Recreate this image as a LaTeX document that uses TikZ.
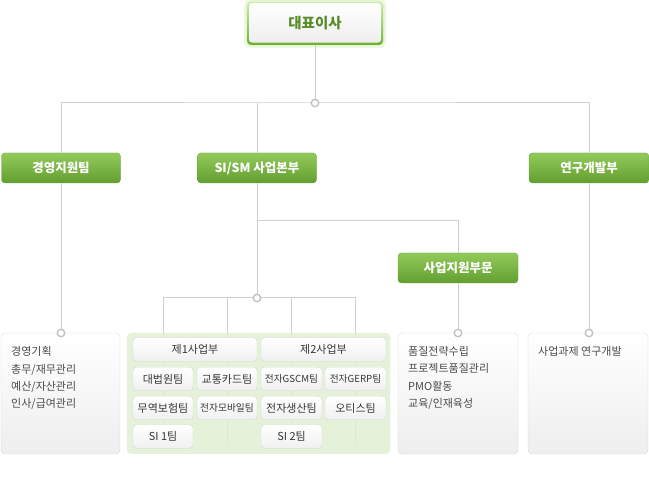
\documentclass[tikz,border=0pt]{standalone}
\usepackage{fontspec}
\setmainfont{Noto Sans CJK KR}
\definecolor{linegray}{RGB}{208,208,208}
\definecolor{dotgray}{RGB}{190,190,190}
\definecolor{gtop}{RGB}{146,203,90}
\definecolor{gbot}{RGB}{98,158,48}
\definecolor{gedge}{RGB}{104,160,56}
\definecolor{ceotop}{RGB}{205,236,170}
\definecolor{ceobot}{RGB}{108,176,48}
\definecolor{ceotxt}{RGB}{88,140,40}
\definecolor{gglow}{RGB}{200,235,165}
\definecolor{boxbot}{RGB}{238,238,238}
\definecolor{boxedge}{RGB}{215,215,215}
\definecolor{teambot}{RGB}{240,240,240}
\definecolor{teamtxt}{RGB}{55,55,55}
\definecolor{txtgray}{RGB}{75,75,75}
\definecolor{panelgreen}{RGB}{225,238,210}
\tikzset{
  conn/.style={draw=linegray, line width=1pt},
  jdot/.style={circle, draw=dotgray, fill=white, line width=1.3pt, minimum size=7.5pt, inner sep=0pt},
  gbox/.style={rounded corners=3.5pt, top color=gtop, bottom color=gbot, draw=gedge, text=white,
    font=\fontsize{12.5}{14}\selectfont\bfseries, minimum width=119pt, minimum height=30pt, inner sep=0pt},
  infobox/.style={rounded corners=4pt, top color=white, bottom color=boxbot, draw=boxedge,
    minimum width=119pt, minimum height=121pt, inner sep=0pt},
  info/.style={text=txtgray, font=\fontsize{11}{17.2}\selectfont, align=left, anchor=north west, inner sep=0pt},
  team/.style={rounded corners=3.5pt, top color=white, bottom color=teambot, draw=boxedge, text=teamtxt,
    font=\fontsize{11}{12}\selectfont, minimum height=23.5pt, inner sep=0pt},
  narrowtxt/.style={font=\fontsize{9.7}{12}\selectfont},
  glowbox/.style={rounded corners=6pt, fill=gglow, fill opacity=0.3, inner sep=0pt},
}
\begin{document}
\begin{tikzpicture}[x=1pt,y=-1pt]
\useasboundingbox (0,0) rectangle (649,481);

% CEO box with glow
\node[glowbox, minimum width=142pt, minimum height=49pt] (glowa) at (315,23.5) {};
\node[glowbox, minimum width=139pt, minimum height=46pt] (glowb) at (315,23.5) {};
\node[rounded corners=4pt, top color=ceotop, bottom color=ceobot, minimum width=136pt, minimum height=43pt, inner sep=0pt] (ceo) at (315,23.5) {};
\node[rounded corners=3pt, top color=white, bottom color=boxbot, minimum width=132pt, minimum height=39.5pt, inner sep=0pt,
  text=ceotxt, font=\fontsize{14.5}{16}\selectfont\bfseries] (ceoin) at (315,22.8) {대표이사};

% junction coordinates
\coordinate (j0) at (315,103);
\coordinate (br) at (257,221);
\coordinate (j1) at (257,298);
\coordinate (d1) at (61,333);
\coordinate (d2) at (458,333);
\coordinate (d3) at (589,333);
\coordinate (k1) at (163,446);
\coordinate (k2) at (227,446);
\coordinate (k3) at (291.5,446);
\coordinate (k4) at (355.5,446);

% header boxes
\node[gbox] (g1) at (61,168) {경영지원팀};
\node[gbox] (g2) at (257,168) {SI/SM 사업본부};
\node[gbox, minimum width=120pt] (g3) at (589,168) {연구개발부};
\node[gbox, minimum width=120pt] (g4) at (458,268) {사업지원부문};

% connectors
\draw[conn] (ceo.south) -- (j0);
\draw[conn] (g1.north) |- (j0) -| (g3.north);
\draw[conn] (g2.north) -- (g2.north |- j0);
\draw[conn] (g1.south) -- (d1);
\draw[conn] (g3.south) -- (d3);
\draw[conn] (g2.south) -- (j1);
\draw[conn] (br) -| (g4.north);
\draw[conn] (g4.south) -- (d2);
\draw[conn] (k1) -- (k1 |- j1) -- (k4 |- j1) -- (k4);
\draw[conn] (k2) -- (k2 |- j1);
\draw[conn] (k3) -- (k3 |- j1);

% bottom boxes
\node[infobox] (b1) at (60.5,393.5) {};
\node[infobox, minimum width=120pt] (b2) at (458,393.5) {};
\node[infobox, minimum width=120pt] (b3) at (588,393.5) {};
\node[rounded corners=4pt, fill=panelgreen, fill opacity=0.82, minimum width=263pt, minimum height=121pt, inner sep=0pt] (panel) at (258.5,393.5) {};

\node[info] (t1) at (11,346.5) {경영기획\\총무/재무관리\\예산/자산관리\\인사/급여관리};
\node[info] (t2) at (408,346.5) {품질전략수립\\프로젝트품질관리\\PMO활동\\교육/인재육성};
\node[info] (t3) at (538,346.5) {사업과제 연구개발};

% team boxes
\node[team, minimum width=124pt] (s1) at (195,349.5) {제1사업부};
\node[team, minimum width=125pt] (s2) at (323.5,349.5) {제2사업부};
\node[team, minimum width=60pt] (a1) at (163,379) {대법원팀};
\node[team, minimum width=60pt] (a2) at (227,379) {교통카드팀};
\node[team, minimum width=61pt, narrowtxt] (a3) at (291.5,379) {전자GSCM팀};
\node[team, minimum width=61pt, narrowtxt] (a4) at (355.5,379) {전자GERP팀};
\node[team, minimum width=60pt] (c1) at (163,408) {무역보험팀};
\node[team, minimum width=60pt, narrowtxt] (c2) at (227,408) {전자모바일팀};
\node[team, minimum width=61pt] (c3) at (291.5,408) {전자생산팀};
\node[team, minimum width=61pt] (c4) at (355.5,408) {오티스팀};
\node[team, minimum width=60pt] (e1) at (163,436.5) {SI 1팀};
\node[team, minimum width=61pt] (e3) at (291.5,436.5) {SI 2팀};

% junction dots
\node[jdot] (dot0) at (j0) {};
\node[jdot] (dot1) at (j1) {};
\node[jdot] (dot2) at (d1) {};
\node[jdot] (dot3) at (d2) {};
\node[jdot] (dot4) at (d3) {};
\end{tikzpicture}
\end{document}
